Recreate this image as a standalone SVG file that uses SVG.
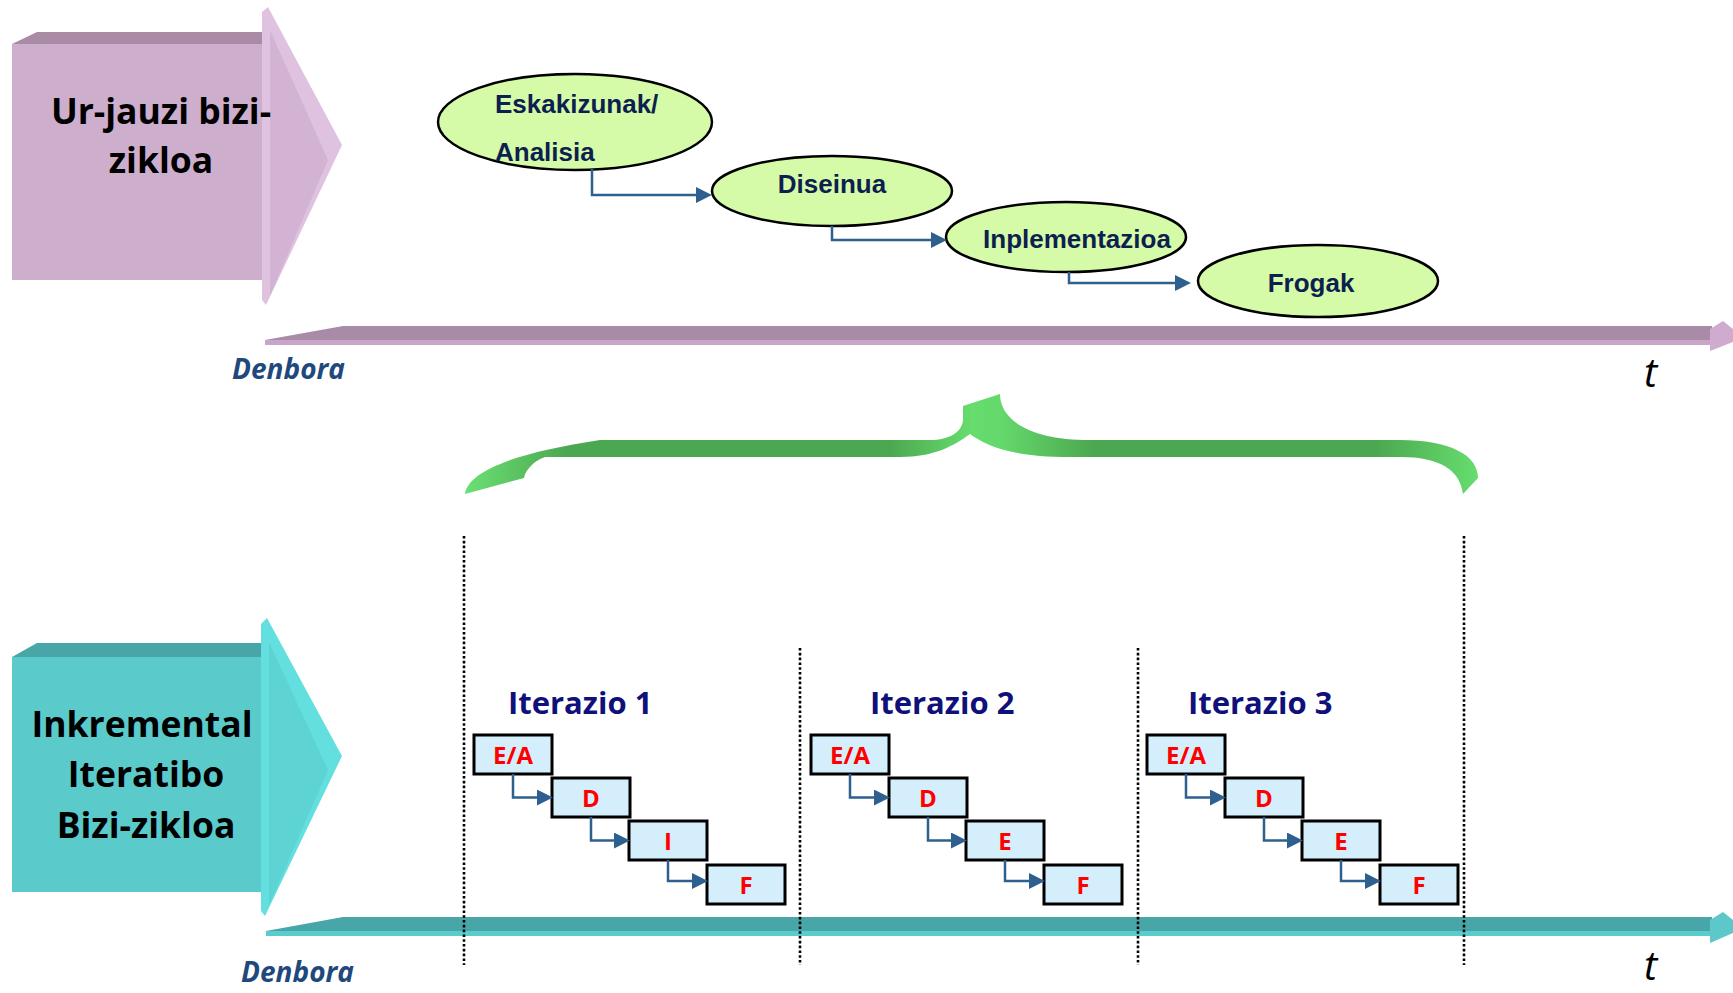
<svg xmlns="http://www.w3.org/2000/svg" width="1733" height="993" viewBox="0 0 1733 993">
<defs>
<style>
.title{font-family:"Open Sans","Liberation Sans",sans-serif;font-weight:bold;font-size:35.5px;fill:#000;text-anchor:middle}
.den{font-family:"Open Sans","Liberation Sans",sans-serif;font-weight:bold;font-style:italic;font-size:28px;fill:#1F497D}
.tt{font-family:"Open Sans","Liberation Sans",sans-serif;font-style:italic;font-size:40px;fill:#000}
.ell{fill:#D5FBA8;stroke:#000;stroke-width:2.5}
.etxt{font-family:"Liberation Sans",Arial,sans-serif;font-weight:bold;font-size:26px;fill:#0D1F4F}
.conn{fill:none;stroke:#2D5F8F;stroke-width:2.5;marker-end:url(#arr)}
.box{fill:#D5EEFB;stroke:#000;stroke-width:3}
.btxt{font-family:"Open Sans","Liberation Sans",sans-serif;font-weight:bold;font-size:24px;fill:#FF0000;text-anchor:middle}
.iter{font-family:"Open Sans","Liberation Sans",sans-serif;font-weight:bold;font-size:31px;fill:#10107A}
.dot{stroke:#000;stroke-width:2.6;stroke-dasharray:2.6 2.2;fill:none}
</style>
<marker id="arr" markerUnits="userSpaceOnUse" markerWidth="16" markerHeight="16" viewBox="0 0 15 15" refX="1" refY="7.5" orient="auto">
<path d="M0,0 L15,7.5 L0,15 z" fill="#2D5F8F"/>
</marker>
<linearGradient id="brace" gradientUnits="userSpaceOnUse" x1="465" y1="0" x2="1478" y2="0">
<stop offset="0" stop-color="#6BE074"/>
<stop offset="0.1" stop-color="#4CA850"/>
<stop offset="0.42" stop-color="#4CA850"/>
<stop offset="0.5" stop-color="#66DD6E"/>
<stop offset="0.53" stop-color="#64D86B"/>
<stop offset="0.62" stop-color="#4CA850"/>
<stop offset="0.9" stop-color="#4CA850"/>
<stop offset="1" stop-color="#66DD6E"/>
</linearGradient>
</defs>

<!-- Top: waterfall lifecycle -->
<g id="waterfall-arrow">
<polygon points="12,44 37,32 262,32 262,44" fill="#A98BA6"/>
<rect x="12" y="44" width="250" height="236" fill="#CDAECD"/>
<polygon points="262,12 268,7 342,145 266,305 262,300" fill="#DFC1E0"/>
<polygon points="270,30 328,160 270,296" fill="#D3B3D4"/>
<text class="title" x="161" y="124">Ur-jauzi bizi-</text>
<text class="title" x="161" y="173">zikloa</text>
</g>

<g id="timeline-top">
<polygon points="265,340 343,326 1712,326 1712,340" fill="#A88BA6"/>
<rect x="265" y="340" width="1447" height="5" fill="#C9A6C9"/>
<polygon points="1710,329 1723,321 1733,329 1733,342 1710,351" fill="#D0ABD0"/>
<text class="den" x="232" y="379">Denbora</text>
<text class="tt" x="1644" y="387">t</text>
</g>

<g id="node-eskakizunak">
<ellipse class="ell" cx="575" cy="122" rx="137" ry="48"/>
<text class="etxt" x="495" y="113">Eskakizunak/</text>
<text class="etxt" x="495" y="161">Analisia</text>
</g>
<g id="node-diseinua">
<ellipse class="ell" cx="832" cy="191" rx="120" ry="35"/>
<text class="etxt" x="832" y="193" text-anchor="middle">Diseinua</text>
</g>
<g id="node-inplementazioa">
<ellipse class="ell" cx="1066" cy="237" rx="120" ry="35"/>
<text class="etxt" x="1077" y="248" text-anchor="middle">Inplementazioa</text>
</g>
<g id="node-frogak">
<ellipse class="ell" cx="1318" cy="281" rx="120" ry="36"/>
<text class="etxt" x="1311" y="292" text-anchor="middle">Frogak</text>
</g>

<!-- Brace -->
<g id="brace-shape">
<path d="M465,494 C468,470 520,452 600,440 L930,440 C950,440 962,432 963,420 L963,406 L1000,394 C1000,420 1030,440 1090,440 L1400,440 C1450,440 1478,455 1478,478 L1463,494 C1460,470 1440,457 1400,457 L1070,457 C1010,457 985,445 970,434 C955,445 935,457 900,457 L545,457 C535,460 525,470 524,478 Z" fill="url(#brace)"/>
</g>

<!-- Bottom: incremental iterative lifecycle -->
<g id="incremental-arrow">
<polygon points="12,657 37,643 261,643 261,657" fill="#49A6A8"/>
<rect x="12" y="657" width="249" height="235" fill="#5BCACB"/>
<polygon points="261,624 267,618 342,756 265,916 261,911" fill="#64DFE0"/>
<polygon points="269,642 328,770 269,905" fill="#5DD3D4"/>
<text class="title" x="142" y="737">Inkremental</text>
<text class="title" x="146" y="787">Iteratibo</text>
<text class="title" x="146" y="838">Bizi-zikloa</text>
</g>

<g id="timeline-bottom">
<polygon points="266,931 343,917 1712,917 1712,931" fill="#49A6A8"/>
<rect x="266" y="931" width="1446" height="5" fill="#5ACCCD"/>
<polygon points="1710,920 1723,912 1733,920 1733,933 1710,943" fill="#5CC8C9"/>
<text class="den" x="241" y="982">Denbora</text>
<text class="tt" x="1644" y="980">t</text>
</g>

<g id="separators">
<line class="dot" x1="464" y1="536" x2="464" y2="965"/>
<line class="dot" x1="800" y1="648" x2="800" y2="965"/>
<line class="dot" x1="1138" y1="648" x2="1138" y2="965"/>
<line class="dot" x1="1464" y1="536" x2="1464" y2="965"/>
</g>

<g id="iter1">
<text class="iter" x="508" y="714">Iterazio 1</text>
<g id="i1-ea"><rect class="box" x="474" y="735" width="78" height="39"/><text class="btxt" x="513" y="764">E/A</text></g>
<g id="i1-d"><rect class="box" x="552" y="778" width="78" height="39"/><text class="btxt" x="591" y="807">D</text></g>
<g id="i1-i"><rect class="box" x="629" y="821" width="78" height="39"/><text class="btxt" x="668" y="850">I</text></g>
<g id="i1-f"><rect class="box" x="707" y="865" width="78" height="39"/><text class="btxt" x="746" y="894">F</text></g>
</g>
<g id="iter2">
<text class="iter" x="870" y="714">Iterazio 2</text>
<g id="i2-ea"><rect class="box" x="811" y="735" width="78" height="39"/><text class="btxt" x="850" y="764">E/A</text></g>
<g id="i2-d"><rect class="box" x="889" y="778" width="78" height="39"/><text class="btxt" x="928" y="807">D</text></g>
<g id="i2-e"><rect class="box" x="966" y="821" width="78" height="39"/><text class="btxt" x="1005" y="850">E</text></g>
<g id="i2-f"><rect class="box" x="1044" y="865" width="78" height="39"/><text class="btxt" x="1083" y="894">F</text></g>
</g>
<g id="iter3">
<text class="iter" x="1188" y="714">Iterazio 3</text>
<g id="i3-ea"><rect class="box" x="1147" y="735" width="78" height="39"/><text class="btxt" x="1186" y="764">E/A</text></g>
<g id="i3-d"><rect class="box" x="1225" y="778" width="78" height="39"/><text class="btxt" x="1264" y="807">D</text></g>
<g id="i3-e"><rect class="box" x="1302" y="821" width="78" height="39"/><text class="btxt" x="1341" y="850">E</text></g>
<g id="i3-f"><rect class="box" x="1380" y="865" width="78" height="39"/><text class="btxt" x="1419" y="894">F</text></g>
</g>

<g id="connectors">
<path class="conn" d="M592,169 V195 H697"/>
<path class="conn" d="M832,226 V240 H932"/>
<path class="conn" d="M1069,272 V283 H1176"/>
<path class="conn" d="M513,774 V797.5 H538"/>
<path class="conn" d="M591,817 V840.5 H615"/>
<path class="conn" d="M668,860 V881 H693"/>
<path class="conn" d="M850,774 V797.5 H875"/>
<path class="conn" d="M928,817 V840.5 H952"/>
<path class="conn" d="M1005,860 V881 H1030"/>
<path class="conn" d="M1186,774 V797.5 H1211"/>
<path class="conn" d="M1264,817 V840.5 H1288"/>
<path class="conn" d="M1341,860 V881 H1366"/>
</g>
</svg>
